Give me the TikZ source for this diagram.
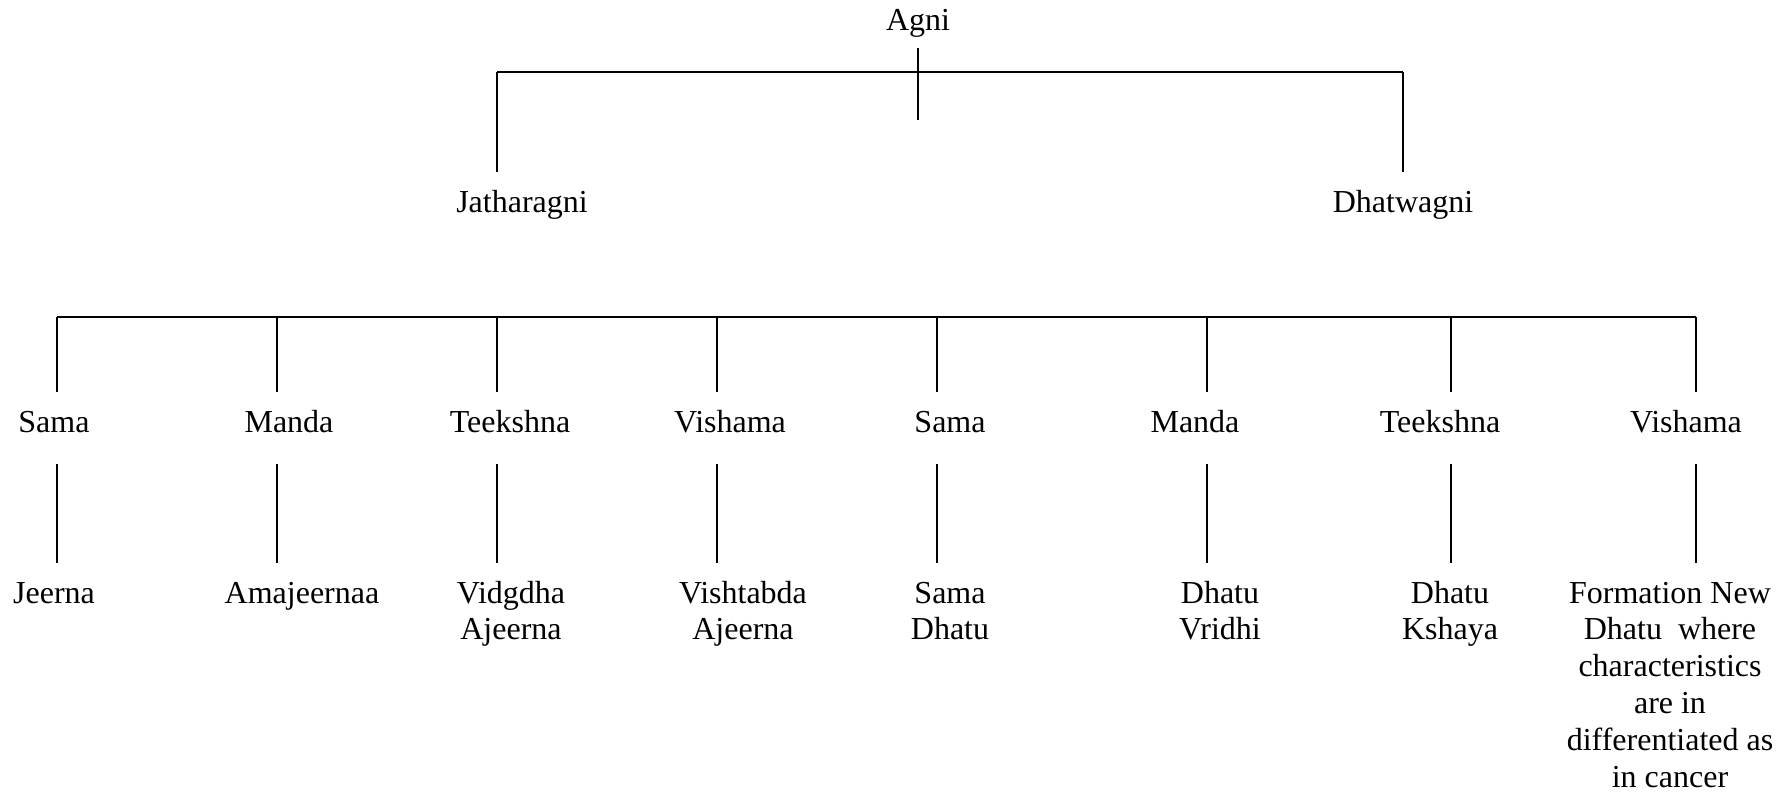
\documentclass[tikz,border=0pt]{standalone}
\usepackage{fontspec}
\setmainfont{Liberation Serif}
\begin{document}
\begin{tikzpicture}[x=0.5pt,y=-0.5pt,
  lbl/.style={font=\fontsize{16}{18.45}\selectfont, inner sep=0pt, anchor=base, align=center},
  conn/.style={line width=0.75pt},
  bar/.style={line width=1.1pt}]
\useasboundingbox (0,0) rectangle (1792,793);
% top level
\node[lbl] (agni) at (918,30.5) {Agni};
\node[lbl] (jath) at (522,212.5) {Jatharagni};
\node[lbl] (dhat) at (1403,212.5) {Dhatwagni};
\coordinate (a1) at (918,48);
\coordinate (a2) at (918,120);
\coordinate (b1L) at (497,72);
\coordinate (b1R) at (1403,72);
\coordinate (j1) at (497,172);
\coordinate (d1) at (1403,172);
\draw[conn] (a1) -- (a2);
\draw[bar] (b1L) -- (b1R);
\draw[conn] (b1L) -- (j1);
\draw[conn] (b1R) -- (d1);
% second bar
\coordinate (b2L) at (57,317);
\coordinate (b2R) at (1696,317);
\draw[bar] (b2L) -- (b2R);
% level 2 labels
\node[lbl] (s1) at (54,432) {Sama};
\node[lbl] (s2) at (289,432) {Manda};
\node[lbl] (s3) at (510,432) {Teekshna};
\node[lbl] (s4) at (730,432) {Vishama};
\node[lbl] (s5) at (950,432) {Sama};
\node[lbl] (s6) at (1195,432) {Manda};
\node[lbl] (s7) at (1440,432) {Teekshna};
\node[lbl] (s8) at (1686,432) {Vishama};
% level 3 labels (base anchor = baseline of last line; 36.9px per line)
\node[lbl] (r1) at (54,603) {Jeerna};
\node[lbl] (r2) at (302,603) {Amajeernaa};
\node[lbl] (r3) at (511,639.9) {Vidgdha\\Ajeerna};
\node[lbl] (r4) at (743,639.9) {Vishtabda\\Ajeerna};
\node[lbl] (r5) at (950,639.9) {Sama\\Dhatu};
\node[lbl] (r6) at (1220,639.9) {Dhatu\\Vridhi};
\node[lbl] (r7) at (1450,639.9) {Dhatu\\Kshaya};
\node[lbl] (r8) at (1670,787.5) {Formation New\\Dhatu\ \ where\\characteristics\\are in\\differentiated as\\in cancer};
% column connectors
\foreach \i/\x in {1/57,2/277,3/497,4/717,5/937,6/1207,7/1451,8/1696}{
  \coordinate (t\i) at (\x,317);
  \coordinate (u\i) at (\x,392);
  \coordinate (v\i) at (\x,464);
  \coordinate (w\i) at (\x,563);
  \draw[conn] (t\i) -- (u\i);
  \draw[conn] (v\i) -- (w\i);
}
\end{tikzpicture}
\end{document}
